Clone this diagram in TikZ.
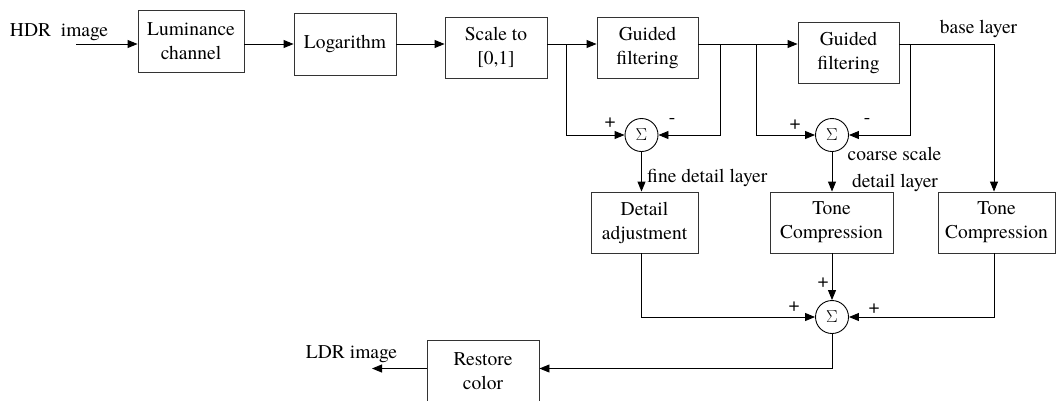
\documentclass[tikz,border=0pt]{standalone}
\usepackage{fontspec}
\setmainfont{TeX Gyre Termes}
\usetikzlibrary{arrows.meta}
\begin{document}
\begin{tikzpicture}[x=1pt,y=-1pt,
  txt/.style={font=\fontsize{19.5}{24}\selectfont},
  block/.style={draw=black!80, line width=0.9pt, rectangle, inner sep=0pt, align=center, txt},
  sumnode/.style={draw=black, line width=0.9pt, circle, minimum size=33pt, inner sep=0pt,
                  font=\fontsize{19}{19}\selectfont},
  lbl/.style={inner sep=0pt, txt},
  wire/.style={line width=0.9pt},
  arr/.style={wire, -{Triangle[length=10pt,width=8pt]}},
]
\useasboundingbox (0,0) rectangle (1056,400);

% processing blocks
\node[block, minimum width=106pt, minimum height=62pt] (lum) at (191,41)    {Luminance\\channel};
\node[block, minimum width=102pt, minimum height=62pt] (log) at (345,44)    {Logarithm};
\node[block, minimum width=102pt, minimum height=61pt] (scl) at (496,47.5)  {Scale to\\{[0,1]}};
\node[block, minimum width=101pt, minimum height=61pt] (gf1) at (647.5,47.5) {Guided\\filtering};
\node[block, minimum width=101pt, minimum height=61pt] (gf2) at (848.5,52.5) {Guided\\filtering};
\node[block, minimum width=107pt, minimum height=61pt] (det) at (644.5,222.5) {Detail\\adjustment};
\node[block, minimum width=123pt, minimum height=61pt] (tc1) at (831.5,222.5) {Tone\\Compression};
\node[block, minimum width=117pt, minimum height=61pt] (tc2) at (996.5,222.5) {Tone\\Compression};
\node[block, minimum width=112pt, minimum height=63pt] (rst) at (483,371.5)  {Restore\\color};

% summing junctions
\node[sumnode] (s1) at (641.5,135) {$\Sigma$};
\node[sumnode] (s2) at (832,135)   {$\Sigma$};
\node[sumnode] (s3) at (832,317)   {$\Sigma$};

% free ends and branch points
\coordinate (in)  at (76,44);
\coordinate (out) at (372,368.5);
\coordinate (b1)  at (566,44);
\coordinate (b2)  at (720,44);
\coordinate (b3)  at (756,44);
\coordinate (b4)  at (910,44);
\coordinate (bl)  at (994,44);

% main chain
\draw[arr] (in) -- (lum.west |- in);
\draw[arr] (lum.east |- in) -- (log.west |- in);
\draw[arr] (log.east |- in) -- (scl.west |- in);
\draw[arr] (scl.east |- in) -- (gf1.west |- in);
\draw[arr] (gf1.east |- in) -- (gf2.west |- in);
\draw[arr] (gf2.east |- in) -| (tc2.north -| bl);

% detail extraction
\draw[arr] (b1) |- (s1.west);
\draw[arr] (b2) |- (s1.east);
\draw[arr] (b3) |- (s2.west);
\draw[arr] (b4) |- (s2.east);
\draw[arr] (s1.south) -- (det.north -| s1.south);
\draw[arr] (s2.south) -- (tc1.north -| s2.south);

% recombination
\draw[arr] (det.south -| s1.south) |- (s3.west);
\draw[arr] (tc1.south -| s3.north) -- (s3.north);
\draw[arr] (tc2.south -| bl) |- (s3.east);
\draw[arr] (s3.south) |- (rst.east |- out);
\draw[arr] (rst.west |- out) -- (out);

% text labels
\node[lbl, anchor=base] (thdr)  at (59,36)      {HDR\ \ image};
\node[lbl, anchor=base] (tbase) at (978.5,33)   {base layer};
\node[lbl, anchor=base west] (tfine) at (647,182) {fine detail layer};
\node[lbl, anchor=base] (tcs1)  at (894.5,160)  {coarse scale};
\node[lbl, anchor=base] (tcs2)  at (895,187)    {detail layer};
\node[lbl, anchor=base] (tldr)  at (351.5,358)  {LDR image};

% signs at the junctions
\node[lbl] (p1) at (610,123) {+};
\node[lbl] (m1) at (672,121) {-};
\node[lbl] (p2) at (795,125) {+};
\node[lbl] (m2) at (867,121) {-};
\node[lbl] (p3) at (823,283) {+};
\node[lbl] (p4) at (794,307) {+};
\node[lbl] (p5) at (874,309) {+};
\end{tikzpicture}
\end{document}
